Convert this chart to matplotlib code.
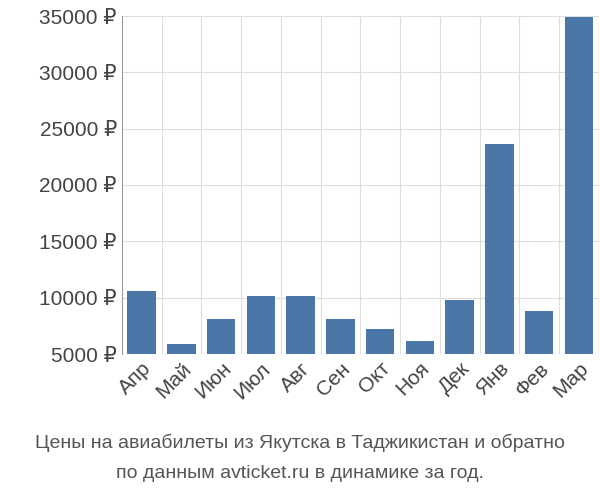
import matplotlib
matplotlib.use("Agg")
import matplotlib.pyplot as plt

months = ["Апр","Май","Июн","Июл","Авг","Сен","Окт","Ноя","Дек","Янв","Фев","Мар"]
prices = [10600, 5900, 8100, 10150, 10150, 8100, 7200, 6150, 9800, 23650, 8800, 34900]
yticks = [5000, 10000, 15000, 20000, 25000, 30000, 35000]

plt.rcParams['font.family'] = ['Liberation Sans', 'DejaVu Sans']
fig = plt.figure(figsize=(6, 5), dpi=100)
ax = fig.add_axes([0.203, 0.292, 0.795, 0.676])
x = range(len(months))
ax.bar(x, prices, width=0.72, color="#4a76a8", zorder=3)
ax.set_ylim(5000, 35000)
ax.set_xlim(-0.5, len(months) - 0.5)
ax.set_yticks(yticks)
ax.set_yticklabels([f"{v} ₽" for v in yticks], fontsize=15, color="#444444")
ax.set_xticks(list(x))
ax.set_xticklabels(months, rotation=45, ha="right", rotation_mode="anchor", fontsize=15, color="#444444")
ax.set_xticks([i + 0.5 for i in x], minor=True)
ax.grid(True, which="major", axis="y", color="#dddddd", zorder=0)
ax.grid(True, which="minor", axis="x", color="#dddddd", zorder=0)
ax.tick_params(which="both", length=0)
for s in ["top", "right", "bottom"]:
    ax.spines[s].set_visible(False)
ax.spines["left"].set_color("#999999")
fig.text(0.5, 0.105, "Цены на авиабилеты из Якутска в Таджикистан и обратно", ha="center", fontsize=14, color="#555555")
fig.text(0.5, 0.045, "по данным avticket.ru в динамике за год.", ha="center", fontsize=14, color="#555555")
fig.savefig("out.png")
